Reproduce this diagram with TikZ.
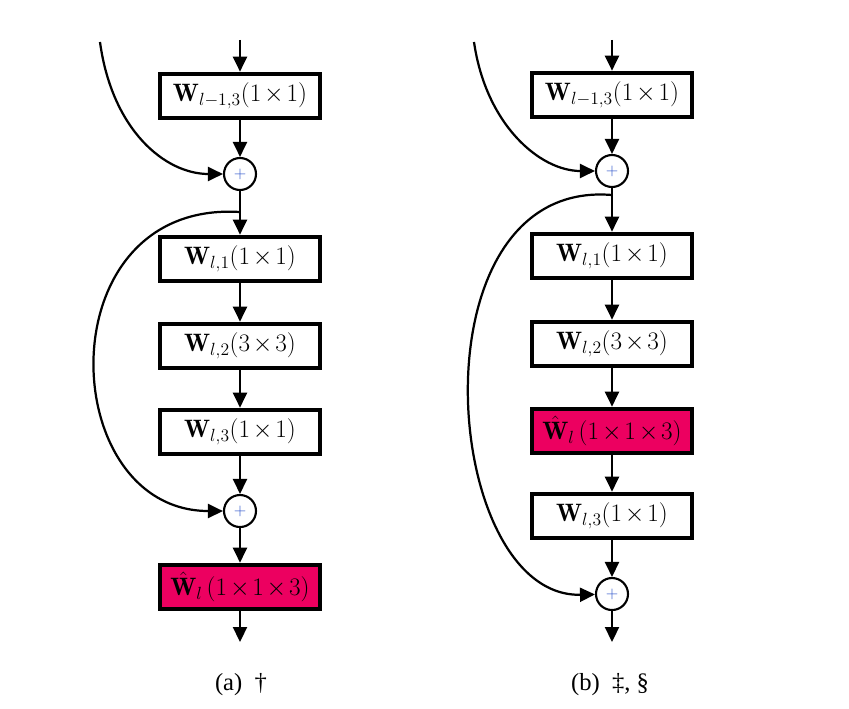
\RequirePackage{fix-cm}
\documentclass[tikz,border=0pt]{standalone}
\usepackage{amsmath}
\usepackage{fontspec}
\newfontfamily\capfont{Liberation Serif}
\usetikzlibrary{arrows.meta, positioning}
\definecolor{hotpink}{RGB}{236,0,96}
\definecolor{plusblue}{RGB}{40,80,200}
\newcommand\layerfont{\fontsize{21.5}{25}\selectfont\medmuskip=2mu\relax}

\begin{document}
\begin{tikzpicture}[x=0.03cm, y=-0.03cm, on grid,
        >={Triangle[length=0.45cm, width=0.42cm]},
        layer/.style={draw, line width=3.4pt, minimum width=4.8cm, minimum height=1.34cm,
            inner sep=0pt, font=\layerfont},
        hatlayer/.style={layer, fill=hotpink},
        sumnode/.style={draw, circle, line width=1.8pt, minimum size=0.96cm, inner sep=0pt,
            font=\fontsize{14}{16}\selectfont, text=plusblue},
        flow/.style={->, line width=1.9pt},
        caption/.style={font=\capfont\fontsize{21}{25}\selectfont}]
        \useasboundingbox (0,0) rectangle (849,709);

        % (a)
        \node[layer](a1) at (240,96) {$\mathbf{W}_{l-1,3}(1\times 1)$};
        \node[sumnode](as1)[below=2.34cm of a1] {$+$};
        \node[layer](a2)[below=2.55cm of as1] {$\mathbf{W}_{l,1}(1\times 1)$};
        \node[layer](a3)[below=2.61cm of a2] {$\mathbf{W}_{l,2}(3\times 3)$};
        \node[layer](a4)[below=2.58cm of a3] {$\mathbf{W}_{l,3}(1\times 1)$};
        \node[sumnode](as2)[below=2.37cm of a4] {$+$};
        \node[hatlayer](a5)[below=2.28cm of as2] {$\hat{\mathbf{W}}_{l}\,(1\times 1\times 3)$};
        \coordinate (ain) at (240,40);
        \coordinate (aout) at (240,642);
        \coordinate (atop) at (100,42);
        \coordinate (askip) at (240,212);
        \path[flow]
        (ain)   edge (a1)
        (a1)    edge (as1)
        (as1)   edge (a2)
        (a2)    edge (a3)
        (a3)    edge (a4)
        (a4)    edge (as2)
        (as2)   edge (a5)
        (a5)    edge (aout);
        \draw[flow] (atop) .. controls (112,130) and (165,174) .. (as1);
        \draw[flow] (askip) .. controls (45,200) and (55,511) .. (as2);
        \node[caption](acap) at (241,685) {(a)~~†};

        % (b)
        \node[layer](b1) at (612,95) {$\mathbf{W}_{l-1,3}(1\times 1)$};
        \node[sumnode](bs1)[below=2.28cm of b1] {$+$};
        \node[layer](b2)[below=2.55cm of bs1] {$\mathbf{W}_{l,1}(1\times 1)$};
        \node[layer](b3)[below=2.64cm of b2] {$\mathbf{W}_{l,2}(3\times 3)$};
        \node[hatlayer](b4)[below=2.61cm of b3] {$\hat{\mathbf{W}}_{l}\,(1\times 1\times 3)$};
        \node[layer](b5)[below=2.55cm of b4] {$\mathbf{W}_{l,3}(1\times 1)$};
        \node[sumnode](bs2)[below=2.34cm of b5] {$+$};
        \coordinate (bin) at (612,40);
        \coordinate (bout) at (612,642);
        \coordinate (btop) at (474,42);
        \coordinate (bskip) at (612,195);
        \path[flow]
        (bin)   edge (b1)
        (b1)    edge (bs1)
        (bs1)   edge (b2)
        (b2)    edge (b3)
        (b3)    edge (b4)
        (b4)    edge (b5)
        (b5)    edge (bs2)
        (bs2)   edge (bout);
        \draw[flow] (btop) .. controls (486,125) and (540,171) .. (bs1);
        \draw[flow] (bskip) .. controls (410,178) and (440,598) .. (bs2);
        \node[caption](bcap) at (610,685) {(b)~~‡, §};
\end{tikzpicture}
\end{document}
